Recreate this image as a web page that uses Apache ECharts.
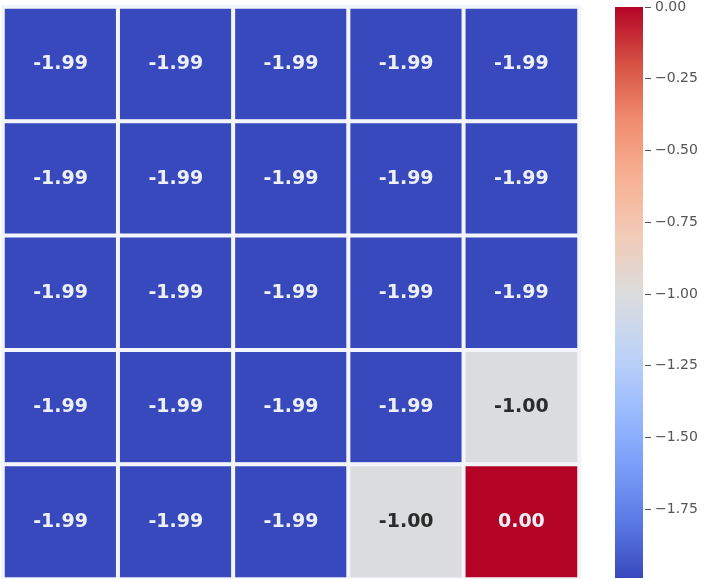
<!DOCTYPE html>
<html>
<head>
<meta charset="utf-8">
<script src="https://cdn.jsdelivr.net/npm/echarts@6/dist/echarts.min.js"></script>
<style>
  html, body { margin: 0; padding: 0; background: #ffffff; }
  #chart { width: 711px; height: 579px; }
</style>
</head>
<body>
<div id="chart"></div>
<script>
// Matrix values, top row first
const rowLabels = ['0', '1', '2', '3', '4'];
const colLabels = ['0', '1', '2', '3', '4'];
const row0 = [-1.99, -1.99, -1.99, -1.99, -1.99];
const row1 = [-1.99, -1.99, -1.99, -1.99, -1.99];
const row2 = [-1.99, -1.99, -1.99, -1.99, -1.99];
const row3 = [-1.99, -1.99, -1.99, -1.99, -1.00];
const row4 = [-1.99, -1.99, -1.99, -1.00, 0.00];
const colorbarTicks = [0, -0.25, -0.5, -0.75, -1.0, -1.25, -1.5, -1.75];
const vMin = -1.99;
const vMax = 0.0;

// coolwarm diverging palette, low -> high
const coolwarm = ['#3849bd', '#5b7ae5', '#7b9ff9', '#9dbdff', '#c0d4f5',
                  '#dcdcdc', '#f2cbb7', '#f7b194', '#f18d6f', '#d65244', '#b40426'];

const rows = [row0, row1, row2, row3, row4];
const cells = [];
rows.forEach((r, ri) => r.forEach((v, ci) => {
  const pale = Math.abs(v - (vMin + vMax) / 2) < 0.3;
  cells.push({ value: [ci, ri, v], label: { color: pale ? '#2b2b2b' : '#eef0f8' } });
}));

// colour bar fill: top of the bar is vMax, bottom is vMin
const barGradient = new echarts.graphic.LinearGradient(0, 0, 0, 1,
  coolwarm.slice().reverse().map((c, i, a) => ({ offset: i / (a.length - 1), color: c })));

const font = 'DejaVu Sans';
const chart = echarts.init(document.getElementById('chart'), null, { renderer: 'canvas' });

chart.setOption({
  backgroundColor: '#ffffff',
  animation: false,
  grid: [
    { left: 3, top: 7, width: 576, height: 573 },
    { left: 615, top: 6, width: 28, height: 572 }
  ],
  xAxis: [
    { type: 'category', data: colLabels, gridIndex: 0, show: false },
    { type: 'category', data: ['bar'], gridIndex: 1, show: false }
  ],
  yAxis: [
    { type: 'category', data: rowLabels, gridIndex: 0, inverse: true, show: false },
    {
      type: 'value', gridIndex: 1, position: 'right', offset: 2, min: vMin, max: vMax,
      axisLine: { show: false },
      splitLine: { show: false },
      axisTick: { show: true, length: 6, lineStyle: { color: '#555' }, customValues: colorbarTicks },
      axisLabel: {
        customValues: colorbarTicks,
        margin: 10,
        color: '#555',
        fontFamily: font,
        fontSize: 14,
        formatter: v => (v < 0 ? '\u2212' : '') + Math.abs(v).toFixed(2)
      }
    }
  ],
  visualMap: {
    type: 'continuous',
    show: false,
    min: vMin, max: vMax,
    seriesIndex: 0,
    inRange: { color: coolwarm }
  },
  series: [{
    type: 'heatmap',
    xAxisIndex: 0, yAxisIndex: 0,
    data: cells,
    itemStyle: { borderColor: '#f4f5fb', borderWidth: 4 },
    label: {
      show: true,
      fontFamily: font,
      fontWeight: 'bold',
      fontSize: 19,
      formatter: p => p.value[2].toFixed(2)
    }
  }, {
    type: 'bar',
    xAxisIndex: 1, yAxisIndex: 1,
    barWidth: '100%',
    silent: true,
    data: [vMin],
    itemStyle: { color: barGradient }
  }]
});
</script>
</body>
</html>
